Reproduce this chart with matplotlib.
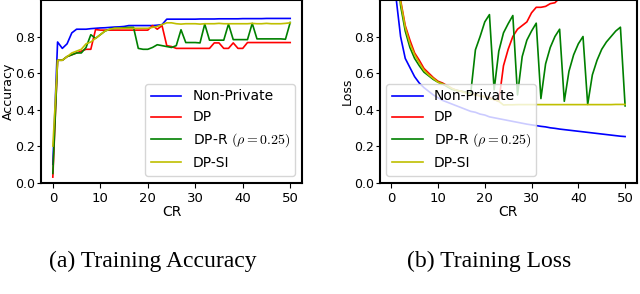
import matplotlib
matplotlib.use('Agg')
import matplotlib.pyplot as plt
import numpy as np

plt.rcParams['mathtext.fontset'] = 'cm'
plt.rcParams['font.size'] = 10

cr = np.arange(0, 51)

# training accuracy
acc_nonprivate = [0.10, 0.77, 0.735, 0.76, 0.82, 0.84, 0.84, 0.84, 0.843, 0.845,
                  0.847, 0.848, 0.85, 0.852, 0.853, 0.855, 0.86, 0.86, 0.86, 0.86,
                  0.86, 0.86, 0.862, 0.865, 0.895, 0.895, 0.895, 0.895, 0.895, 0.895,
                  0.895, 0.896, 0.896, 0.896, 0.896, 0.897, 0.897, 0.897, 0.897, 0.897,
                  0.898, 0.898, 0.898, 0.898, 0.898, 0.899, 0.899, 0.899, 0.899, 0.899,
                  0.899]
acc_dp = [0.03, 0.67, 0.67, 0.69, 0.70, 0.71, 0.72, 0.73, 0.73, 0.838,
          0.835, 0.835, 0.835, 0.835, 0.835, 0.835, 0.835, 0.835, 0.835, 0.835,
          0.835, 0.86, 0.84, 0.86, 0.75, 0.745, 0.735, 0.735, 0.735, 0.735,
          0.735, 0.735, 0.735, 0.735, 0.765, 0.765, 0.735, 0.735, 0.765, 0.735,
          0.735, 0.767, 0.767, 0.767, 0.767, 0.767, 0.767, 0.767, 0.767, 0.767,
          0.767]
acc_dpr = [0.05, 0.67, 0.67, 0.69, 0.70, 0.71, 0.71, 0.74, 0.81, 0.79,
           0.81, 0.83, 0.84, 0.845, 0.845, 0.848, 0.85, 0.85, 0.735, 0.73,
           0.73, 0.74, 0.755, 0.75, 0.745, 0.74, 0.75, 0.837, 0.767, 0.767,
           0.767, 0.765, 0.868, 0.78, 0.78, 0.78, 0.78, 0.868, 0.783, 0.783,
           0.783, 0.783, 0.872, 0.787, 0.787, 0.787, 0.787, 0.787, 0.787, 0.785,
           0.877]
acc_dpsi = [0.20, 0.67, 0.67, 0.69, 0.71, 0.72, 0.73, 0.76, 0.77, 0.79,
            0.81, 0.83, 0.84, 0.845, 0.845, 0.845, 0.845, 0.845, 0.845, 0.845,
            0.845, 0.85, 0.855, 0.865, 0.875, 0.875, 0.87, 0.868, 0.87, 0.87,
            0.87, 0.868, 0.87, 0.87, 0.87, 0.872, 0.87, 0.87, 0.87, 0.87,
            0.87, 0.87, 0.872, 0.87, 0.87, 0.872, 0.87, 0.87, 0.87, 0.872,
            0.875]

# training loss
loss_nonprivate = [1.8, 1.02, 0.80, 0.68, 0.63, 0.58, 0.545, 0.52, 0.50, 0.48,
                   0.465, 0.45, 0.44, 0.43, 0.42, 0.41, 0.40, 0.39, 0.385, 0.375,
                   0.37, 0.36, 0.355, 0.35, 0.345, 0.34, 0.335, 0.33, 0.325, 0.32,
                   0.316, 0.312, 0.308, 0.305, 0.30, 0.297, 0.293, 0.29, 0.287, 0.284,
                   0.281, 0.278, 0.275, 0.272, 0.269, 0.266, 0.263, 0.26, 0.257, 0.254,
                   0.252]
loss_dp = [2.0, 1.30, 1.0, 0.86, 0.78, 0.71, 0.67, 0.625, 0.60, 0.575,
           0.555, 0.545, 0.53, 0.515, 0.505, 0.50, 0.495, 0.49, 0.48, 0.475,
           0.47, 0.465, 0.455, 0.445, 0.64, 0.73, 0.80, 0.84, 0.86, 0.88,
           0.93, 0.96, 0.96, 0.965, 0.98, 0.985, 1.01, 1.03, 1.04, 1.05,
           1.06, 1.07, 1.08, 1.09, 1.10, 1.11, 1.12, 1.13, 1.14, 1.15,
           1.16]
loss_dpr = [1.9, 1.25, 0.97, 0.83, 0.74, 0.68, 0.64, 0.605, 0.585, 0.565,
            0.55, 0.54, 0.525, 0.51, 0.505, 0.50, 0.495, 0.49, 0.727, 0.80,
            0.88, 0.92, 0.508, 0.72, 0.82, 0.87, 0.915, 0.48, 0.69, 0.78,
            0.83, 0.873, 0.46, 0.65, 0.74, 0.80, 0.84, 0.445, 0.61, 0.70,
            0.76, 0.80, 0.428, 0.59, 0.67, 0.73, 0.77, 0.80, 0.83, 0.851,
            0.42]
loss_dpsi = [1.95, 1.28, 0.99, 0.85, 0.76, 0.70, 0.655, 0.615, 0.59, 0.57,
             0.55, 0.54, 0.53, 0.515, 0.505, 0.50, 0.49, 0.485, 0.48, 0.475,
             0.47, 0.46, 0.455, 0.445, 0.425, 0.426, 0.426, 0.427, 0.427, 0.427,
             0.427, 0.427, 0.427, 0.427, 0.427, 0.427, 0.427, 0.427, 0.427, 0.427,
             0.427, 0.427, 0.427, 0.427, 0.427, 0.427, 0.427, 0.427, 0.428, 0.428,
             0.428]

labels = ['Non-Private', 'DP', r'DP-R $(\rho = 0.25)$', 'DP-SI']
colors = ['b', 'r', 'g', 'y']

fig = plt.figure(figsize=(6.4, 2.94), dpi=100)
ax1 = fig.add_axes([0.064, 0.379, 0.408, 0.621])
ax2 = fig.add_axes([0.593, 0.379, 0.402, 0.621])

for ax, series in [(ax1, [acc_nonprivate, acc_dp, acc_dpr, acc_dpsi]),
                   (ax2, [loss_nonprivate, loss_dp, loss_dpr, loss_dpsi])]:
    for y, c, lab in zip(series, colors, labels):
        ax.plot(cr, y, color=c, linewidth=1.2, label=lab)
    ax.set_ylim(0, 1.0)
    ax.set_xlim(-2.5, 52.5)
    ax.set_yticks([0.0, 0.2, 0.4, 0.6, 0.8])
    ax.set_xticks([0, 10, 20, 30, 40, 50])
    ax.set_xlabel('CR', labelpad=0)
    ax.tick_params(axis='x', labelsize=9.5, length=3.5, pad=3)
    ax.tick_params(axis='y', labelsize=9, length=3, pad=1.2)
    for s in ax.spines.values():
        s.set_linewidth(1.5)

ax1.set_ylabel('Accuracy', fontsize=9)
ax2.set_ylabel('Loss', fontsize=9)
ax1.yaxis.set_label_coords(-0.1, 0.5)
ax2.yaxis.set_label_coords(-0.1, 0.5)
ax1.legend(loc='lower right', fontsize=10, handlelength=2.2, borderaxespad=0.5)
leg2 = ax2.legend(loc='lower left', fontsize=10, handlelength=2.2, borderaxespad=0.5)
leg2.set_zorder(5)

fig.text(0.238, 0.11, '(a) Training Accuracy', ha='center', va='center',
         family='Liberation Serif', fontsize=17)
fig.text(0.764, 0.11, '(b) Training Loss', ha='center', va='center',
         family='Liberation Serif', fontsize=17)

fig.savefig('out.png', dpi=100)
